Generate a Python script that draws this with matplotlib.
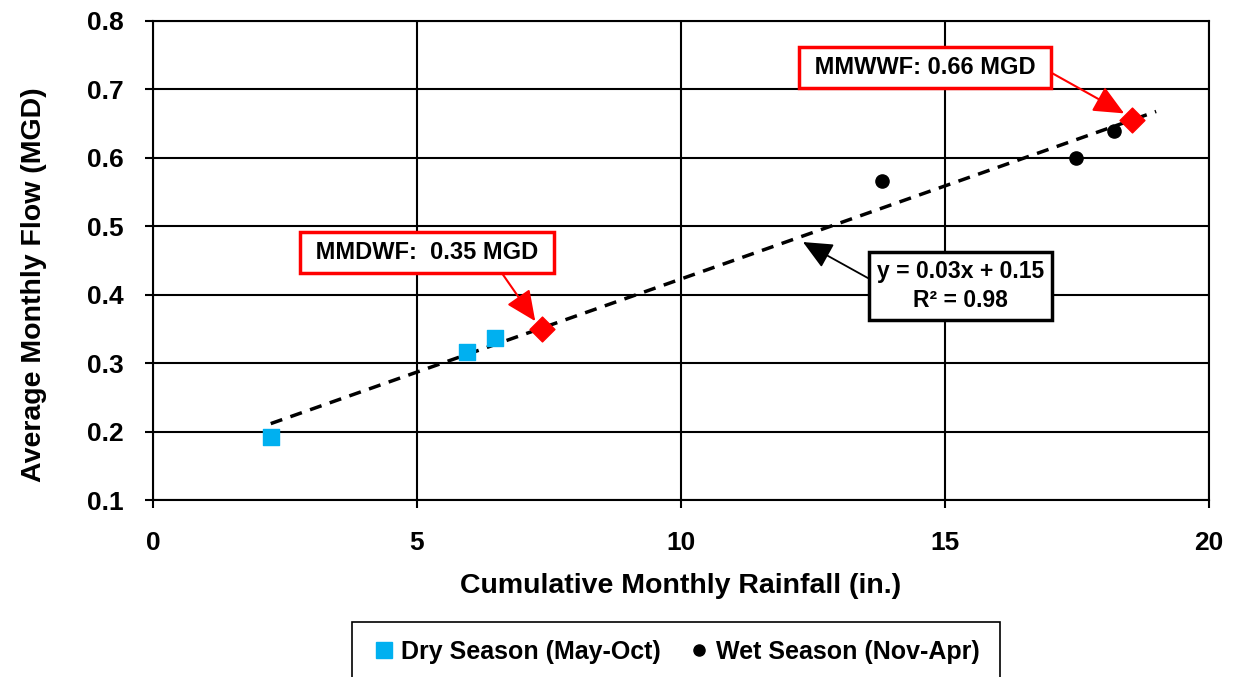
import numpy as np
import matplotlib
matplotlib.use('Agg')
import matplotlib.pyplot as plt
from matplotlib.lines import Line2D
from matplotlib.patches import Rectangle

plt.rcParams['font.family'] = ['Liberation Sans', 'DejaVu Sans']
plt.rcParams['font.weight'] = 'bold'

# dry season points
dry_rain = [2.23, 5.95, 6.48]
dry_flow = [0.192, 0.316, 0.337]

# wet season points
wet_rain = [13.81, 17.48, 18.2]
wet_flow = [0.566, 0.600, 0.639]

# design flows (MMDWF, MMWWF)
design_rain = [7.37, 18.54]
design_flow = [0.350, 0.655]
design_labels = ['MMDWF:  0.35 MGD', 'MMWWF: 0.66 MGD']

# linear trend
trend_slope = 0.0272
trend_intercept = 0.151
trend_x = [2.23, 19.0]

fig = plt.figure(figsize=(12.35, 6.77), dpi=100)
ax = fig.add_axes([0.1239, 0.2614, 0.855, 0.7076])

tx = np.array(trend_x)
ax.plot(tx, trend_slope * tx + trend_intercept, color='black', ls=(0, (3.5, 2.5)),
        lw=2.5, zorder=3)
ax.scatter(dry_rain, dry_flow, marker='s', s=135, color='#00B0F0', zorder=4)
ax.scatter(wet_rain, wet_flow, marker='o', s=90, color='black', zorder=4)
ax.scatter(design_rain, design_flow, marker='D', s=160, color='#FF0000', zorder=5)

ax.set_xlim(0, 20)
ax.set_ylim(0.1, 0.8)
ax.set_xticks([0, 5, 10, 15, 20])
ax.set_yticks(np.arange(0.1, 0.81, 0.1))
ax.yaxis.set_major_formatter(matplotlib.ticker.FormatStrFormatter('%.1f'))
ax.tick_params(labelsize=19, length=6, width=1.5)
ax.tick_params(axis='x', pad=16)
ax.tick_params(axis='y', pad=15)
ax.grid(True, color='black', lw=1.5)
ax.set_axisbelow(True)
for s in ax.spines.values():
    s.set_linewidth(1.5)

ax.set_xlabel('Cumulative Monthly Rainfall (in.)', fontsize=20.5, fontweight='bold', va='center')
ax.set_ylabel('Average Monthly Flow (MGD)', fontsize=20.5, fontweight='bold', va='center')
ax.xaxis.set_label_coords(0.5, -0.1795)
ax.yaxis.set_label_coords(-0.113, 0.45)

red_box = dict(boxstyle='square,pad=0.38', fc='white', ec='#FF0000', lw=2.5)
ax.annotate(' ' + design_labels[0] + ' ', xy=(design_rain[0] - 0.1, design_flow[0] + 0.008),
            xytext=(5.19, 0.462), ha='center', va='center', fontsize=17,
            bbox=red_box, zorder=6,
            arrowprops=dict(arrowstyle='-|>,head_length=1.1,head_width=0.5', relpos=(0.79, 0),
                            color='#FF0000', lw=1.5, shrinkA=0, shrinkB=2))
ax.annotate(' ' + design_labels[1] + ' ', xy=(design_rain[1] - 0.1, design_flow[1] + 0.008),
            xytext=(14.62, 0.732), ha='center', va='center', fontsize=17,
            bbox=red_box, zorder=6,
            arrowprops=dict(arrowstyle='-|>,head_length=1.1,head_width=0.5', relpos=(1.0, 0.5),
                            color='#FF0000', lw=1.5, shrinkA=0, shrinkB=2))

ax.annotate('y = 0.03x + 0.15\nR² = 0.98', xy=(12.31, 0.477), xytext=(15.3, 0.413),
            ha='center', va='center', fontsize=16.5, linespacing=1.35,
            bbox=dict(boxstyle='square,pad=0.35', fc='white', ec='black', lw=2.5),
            arrowprops=dict(arrowstyle='-|>,head_length=1.1,head_width=0.5', relpos=(0, 0.55),
                            color='black', lw=1.3, shrinkA=0, shrinkB=0), zorder=6)

handles = [Line2D([], [], ls='none', marker='s', ms=12, color='#00B0F0'),
           Line2D([], [], ls='none', marker='o', ms=8, color='black')]
leg = fig.legend(handles, ['Dry Season (May-Oct)', 'Wet Season (Nov-Apr)'],
                 loc='upper center', bbox_to_anchor=(0.547, 0.0812), ncol=2, fontsize=18,
                 frameon=False, handlelength=1.0,
                 handletextpad=0.2, columnspacing=1.0, borderpad=0.7, borderaxespad=0)
# legend frame runs off the bottom edge in the original
fig.patches.append(Rectangle((352 / 1235, -0.05), 648 / 1235, 0.0812 + 0.05,
                             transform=fig.transFigure, fill=False, ec='black', lw=1.2))

fig.savefig('out.png', dpi=100)
